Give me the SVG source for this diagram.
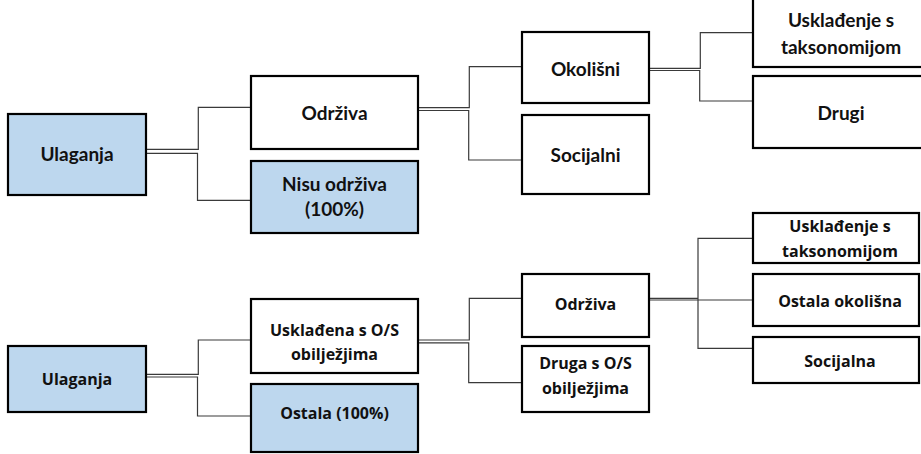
<svg xmlns="http://www.w3.org/2000/svg" width="921" height="454" viewBox="0 0 921 454">
<style>
.box{fill:#ffffff;stroke:#000000;stroke-width:2.2}
.blue{fill:#BDD7EE;stroke:#000000;stroke-width:2.2}
.t1{font-family:Lato,"Liberation Sans",sans-serif;font-weight:bold;font-size:19px;fill:#111111;text-anchor:middle}
.t2{font-family:"Open Sans","Liberation Sans",sans-serif;font-weight:bold;font-size:16px;fill:#111111;text-anchor:middle}
.c{fill:none;stroke:#3a3a3a;stroke-width:1.2}
</style>
<rect width="921" height="454" fill="#ffffff"/>
<g id="connectors">
<path class="c" d="M147,149.3 H198.3 V107.3 H250"/>
<path class="c" d="M147,153.3 H197.5 V200.3 H250"/>
<path class="c" d="M419,107.7 H469.3 V66.7 H521"/>
<path class="c" d="M419,110.5 H468.7 V160 H521"/>
<path class="c" d="M650,68.3 H700.3 V32.7 H752"/>
<path class="c" d="M650,70.5 H699.7 V101 H752"/>
<path class="c" d="M147,374.3 H198.3 V340 H250"/>
<path class="c" d="M147,377 H197.5 V416 H250"/>
<path class="c" d="M419,340 H469.3 V298.3 H521"/>
<path class="c" d="M419,342.8 H468.7 V382.7 H521"/>
<path class="c" d="M650,298.3 H698 V238.3 H752"/>
<path class="c" d="M650,300 H752"/>
<path class="c" d="M698,299 V348.3 H752"/>
</g>
<g id="n-ulaganja-top">
<rect class="blue" x="8" y="114" width="138" height="81"/>
<text class="t1" x="77" y="161">Ulaganja</text>
</g>
<g id="n-odrziva-top">
<rect class="box" x="251" y="76" width="167" height="73"/>
<text class="t1" x="334.5" y="119.5">Održiva</text>
</g>
<g id="n-nisu-odrziva">
<rect class="blue" x="251" y="161" width="167" height="72"/>
<text class="t1" x="334.5" y="190.5">Nisu održiva</text>
<text class="t1" x="334.5" y="216">(100%)</text>
</g>
<g id="n-okolisni">
<rect class="box" x="522" y="32" width="127" height="71"/>
<text class="t1" x="585.5" y="75.5">Okolišni</text>
</g>
<g id="n-socijalni">
<rect class="box" x="522" y="115" width="127" height="79"/>
<text class="t1" x="585.5" y="161.5">Socijalni</text>
</g>
<g id="n-uskladjenje-top">
<rect class="box" x="753" y="-6" width="180" height="73"/>
<text class="t1" x="841" y="26.7">Usklađenje s</text>
<text class="t1" x="841" y="54">taksonomijom</text>
</g>
<g id="n-drugi">
<rect class="box" x="753" y="76" width="180" height="72"/>
<text class="t1" x="841" y="120">Drugi</text>
</g>
<g id="n-ulaganja-bottom">
<rect class="blue" x="8" y="346" width="138" height="66"/>
<text class="t2" x="77" y="385">Ulaganja</text>
</g>
<g id="n-uskladjena">
<rect class="box" x="251" y="299" width="167" height="74"/>
<text class="t2" x="334.5" y="336">Usklađena s O/S</text>
<text class="t2" x="334.5" y="360">obilježjima</text>
</g>
<g id="n-ostala">
<rect class="blue" x="251" y="384" width="167" height="68"/>
<text class="t2" x="334.5" y="418.5">Ostala (100%)</text>
</g>
<g id="n-odrziva-bottom">
<rect class="box" x="522" y="274" width="127" height="63"/>
<text class="t2" x="585.5" y="310">Održiva</text>
</g>
<g id="n-druga">
<rect class="box" x="522" y="346" width="127" height="66"/>
<text class="t2" x="585.5" y="368.5">Druga s O/S</text>
<text class="t2" x="585.5" y="393.5">obilježjima</text>
</g>
<g id="n-uskladjenje-bottom">
<rect class="box" x="753" y="213" width="166" height="50"/>
<text class="t2" x="840" y="232">Usklađenje s</text>
<text class="t2" x="840" y="257">taksonomijom</text>
</g>
<g id="n-ostala-okolisna">
<rect class="box" x="753" y="274" width="166" height="52"/>
<text class="t2" x="840" y="306.5">Ostala okolišna</text>
</g>
<g id="n-socijalna">
<rect class="box" x="753" y="337" width="166" height="46"/>
<text class="t2" x="840" y="366.5">Socijalna</text>
</g>
</svg>
